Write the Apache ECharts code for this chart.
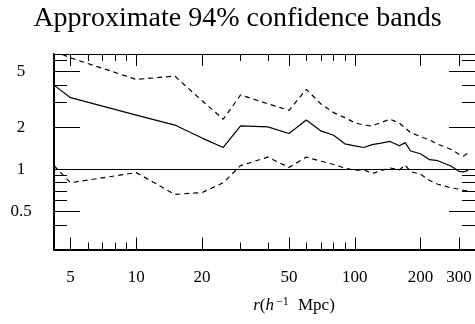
<!DOCTYPE html>
<html>
<head>
<meta charset="utf-8">
<script src="https://cdn.jsdelivr.net/npm/echarts@6/dist/echarts.min.js"></script>
<style>
  html, body { margin: 0; padding: 0; background: #fff; }
  #chart { width: 475px; height: 324px; }
</style>
</head>
<body>
<div id="chart"></div>
<script>
// separation r (h^-1 Mpc)
const radius = [4.2, 5, 10, 15, 20, 25, 30, 40, 50, 60, 70, 80, 90, 100, 110, 120, 130, 145, 160, 170, 180, 200, 220, 240, 275, 300, 315, 330]
// ratio (solid) and approximate 94% band (dashed)
const ratio = [4.00, 3.25, 2.44, 2.07, 1.67, 1.43, 2.04, 2.01, 1.80, 2.25, 1.88, 1.75, 1.52, 1.47, 1.43, 1.50, 1.53, 1.58, 1.47, 1.55, 1.35, 1.29, 1.17, 1.15, 1.055, 0.965, 0.957, 0.98]
const upper = [7.0, 6.27, 4.39, 4.64, 3.09, 2.28, 3.40, 2.94, 2.64, 3.73, 2.93, 2.54, 2.34, 2.15, 2.07, 2.04, 2.14, 2.28, 2.14, 1.97, 1.83, 1.71, 1.62, 1.51, 1.39, 1.28, 1.24, 1.31]
const lower = [1.06, 0.80, 0.945, 0.66, 0.68, 0.80, 1.06, 1.22, 1.03, 1.22, 1.14, 1.08, 1.02, 0.98, 0.99, 0.93, 0.97, 1.02, 0.99, 1.07, 0.96, 0.92, 0.83, 0.78, 0.735, 0.72, 0.705, 0.70]

const xMajorTicks = [5, 10, 20, 50, 100, 200, 300]
const xMinorTicks = [6, 7, 8, 9, 30, 40, 60, 70, 80, 90]
const yMajorTicks = [0.5, 1, 2, 5]
const yMinorTicks = [0.4, 0.6, 0.7, 0.8, 0.9, 3, 4, 6]

const X_MIN = 4.2, X_MAX = 355
const Y_MIN = 0.266, Y_MAX = 6.68
const serif = 'Liberation Serif'

const chart = echarts.init(document.getElementById('chart'), null, { renderer: 'canvas' })

function xAx(pos, ticks, len, opts) {
  return Object.assign({
    type: 'log', logBase: 10, min: X_MIN, max: X_MAX, position: pos,
    splitLine: { show: false },
    axisLine: { show: false },
    axisTick: { show: true, inside: true, length: len, customValues: ticks, lineStyle: { color: '#000', width: 1 } },
    axisLabel: { show: false }
  }, opts || {})
}
function yAx(pos, ticks, len, opts) {
  return Object.assign({
    type: 'log', logBase: 10, min: Y_MIN, max: Y_MAX, position: pos,
    splitLine: { show: false },
    axisLine: { show: false },
    axisTick: { show: true, inside: true, length: len, customValues: ticks, lineStyle: { color: '#000', width: 1 } },
    axisLabel: { show: false }
  }, opts || {})
}

const option = {
  animation: false,
  backgroundColor: '#fff',
  title: {
    text: 'Approximate 94% confidence bands',
    left: 'center',
    top: 0,
    textStyle: { fontFamily: serif, fontSize: 28, fontWeight: 'normal', color: '#000' }
  },
  grid: { left: 54, right: -3, top: 54, bottom: 74.5 },
  xAxis: [
    xAx('bottom', xMajorTicks, 12, {
      axisLine: { show: true, lineStyle: { color: '#000', width: 2 } },
      axisLabel: {
        show: true, customValues: xMajorTicks, margin: 20,
        fontFamily: serif, fontSize: 17, color: '#000',
        formatter: v => String(v)
      }
    }),
    xAx('bottom', xMinorTicks, 7),
    xAx('top', xMajorTicks, 12, { axisLine: { show: true, lineStyle: { color: '#000', width: 1 } } }),
    xAx('top', xMinorTicks, 7)
  ],
  yAxis: [
    yAx('left', yMajorTicks, 26, {
      axisLine: { show: true, lineStyle: { color: '#000', width: 2 } },
      axisLabel: {
        show: true, customValues: yMajorTicks, margin: 33, align: 'center',
        fontFamily: serif, fontSize: 17, color: '#000',
        formatter: v => String(v)
      }
    }),
    yAx('left', yMinorTicks, 13),
    yAx('right', yMajorTicks, 26, { axisLine: { show: true, lineStyle: { color: '#000', width: 1 } } }),
    yAx('right', yMinorTicks, 13)
  ],
  graphic: [{
    type: 'text',
    x: 294, y: 306,
    style: {
      text: '{i|r}({i|h}{sup|−1} Mpc)',
      font: '17px "Liberation Serif"',
      fill: '#000',
      align: 'center',
      verticalAlign: 'middle',
      rich: {
        i: { fontFamily: serif, fontStyle: 'italic', fontSize: 17 },
        sup: { fontFamily: serif, fontSize: 12, verticalAlign: 'top', padding: [0, 5, 8, 2] }
      }
    }
  }],
  series: [
    {
      name: 'ratio', type: 'line', xAxisIndex: 0, yAxisIndex: 0,
      data: radius.map((r, i) => [r, ratio[i]]),
      showSymbol: false, clip: true,
      lineStyle: { color: '#000', width: 1.2 },
      markLine: {
        silent: true, symbol: 'none', label: { show: false },
        lineStyle: { color: '#000', width: 1.2, type: 'solid' },
        data: [{ yAxis: 1 }]
      }
    },
    {
      name: 'upper', type: 'line', xAxisIndex: 0, yAxisIndex: 0,
      data: radius.map((r, i) => [r, upper[i]]),
      showSymbol: false, clip: true,
      lineStyle: { color: '#000', width: 1.2, type: [5, 4] }
    },
    {
      name: 'lower', type: 'line', xAxisIndex: 0, yAxisIndex: 0,
      data: radius.map((r, i) => [r, lower[i]]),
      showSymbol: false, clip: true,
      lineStyle: { color: '#000', width: 1.2, type: [5, 4] }
    }
  ]
}

chart.setOption(option)
</script>
</body>
</html>
